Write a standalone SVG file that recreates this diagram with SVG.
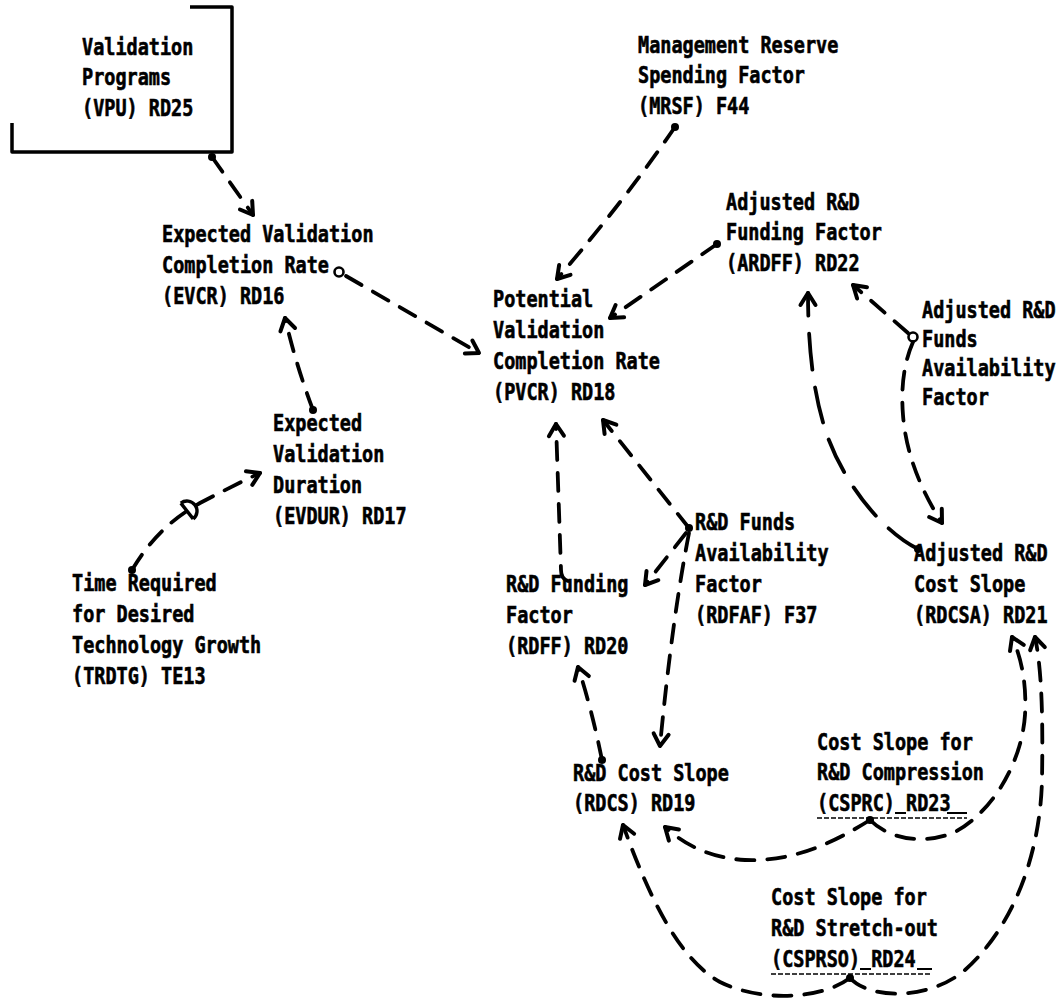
<svg xmlns="http://www.w3.org/2000/svg" width="1061" height="1000" viewBox="0 0 1061 1000">
  <style>
    .lbl text { font-family: "DejaVu Sans Mono", "Liberation Mono", monospace; font-weight: bold; font-size: 18.5px; fill: #000; stroke: #000; stroke-width: 0.5px; }
    .c { fill: none; stroke: #000; stroke-width: 3.8; stroke-linecap: round; stroke-dasharray: 18 13; }
    .cl { fill: none; stroke: #000; stroke-width: 3.8; stroke-linecap: round; stroke-dasharray: 36 18; }
    .dot { fill: #000; }
    .ring { fill: none; stroke: #000; stroke-width: 2.6; }
    .box { fill: none; stroke: #000; stroke-width: 3.5; stroke-linejoin: round; }
    .ul { stroke: #000; stroke-width: 1.6; stroke-dasharray: 5 2; }
    .us { stroke: #000; stroke-width: 2; }
  </style>
  <defs>
    <marker id="ah" markerUnits="userSpaceOnUse" markerWidth="34" markerHeight="34" viewBox="-17 -17 34 34" refX="0" refY="0" orient="auto">
      <path d="M-12,-7.5 L0,0 L-12,7.5" fill="none" stroke="#000" stroke-width="4" stroke-linecap="round" stroke-linejoin="round"/>
    </marker>
  </defs>
  <rect width="1061" height="1000" fill="#fff"/>

  <!-- nodes: text lines are stretched vertically to the tall print face -->
  <g id="n-vpu">
    <path class="box" d="M190,7 L232,7 L232,152 L12,152 L12,123"/>
    <g class="lbl" transform="translate(82,55) scale(1,1.22)">
      <text y="0">Validation</text>
      <text y="25">Programs</text>
      <text y="50">(VPU) RD25</text>
    </g>
  </g>
  <g id="n-evcr" class="lbl" transform="translate(162,242) scale(1,1.22)">
    <text y="0">Expected Validation</text>
    <text y="25.4">Completion Rate</text>
    <text y="50.8">(EVCR) RD16</text>
  </g>
  <g id="n-pvcr" class="lbl" transform="translate(493,307) scale(1,1.22)">
    <text y="0">Potential</text>
    <text y="25.4">Validation</text>
    <text y="50.8">Completion Rate</text>
    <text y="76.2">(PVCR) RD18</text>
  </g>
  <g id="n-mrsf" class="lbl" transform="translate(638,53) scale(1,1.22)">
    <text y="0">Management Reserve</text>
    <text y="25">Spending Factor</text>
    <text y="50">(MRSF) F44</text>
  </g>
  <g id="n-ardff" class="lbl" transform="translate(726,210) scale(1,1.22)">
    <text y="0">Adjusted R&amp;D</text>
    <text y="25">Funding Factor</text>
    <text y="50">(ARDFF) RD22</text>
  </g>
  <g id="n-ardfaf" class="lbl" transform="translate(922,318) scale(1,1.22)">
    <text y="0">Adjusted R&amp;D</text>
    <text y="23.8">Funds</text>
    <text y="47.6">Availability</text>
    <text y="71.4">Factor</text>
  </g>
  <g id="n-evdur" class="lbl" transform="translate(273,431) scale(1,1.22)">
    <text y="0">Expected</text>
    <text y="25.4">Validation</text>
    <text y="50.8">Duration</text>
    <text y="76.2">(EVDUR) RD17</text>
  </g>
  <g id="n-trdtg" class="lbl" transform="translate(72,591) scale(1,1.22)">
    <text y="0">Time Required</text>
    <text y="25.4">for Desired</text>
    <text y="50.8">Technology Growth</text>
    <text y="76.2">(TRDTG) TE13</text>
  </g>
  <g id="n-rdfaf" class="lbl" transform="translate(695,530) scale(1,1.22)">
    <text y="0">R&amp;D Funds</text>
    <text y="25.4">Availability</text>
    <text y="50.8">Factor</text>
    <text y="76.2">(RDFAF) F37</text>
  </g>
  <g id="n-rdff" class="lbl" transform="translate(506,592) scale(1,1.22)">
    <text y="0">R&amp;D Funding</text>
    <text y="25.4">Factor</text>
    <text y="50.8">(RDFF) RD20</text>
  </g>
  <g id="n-rdcsa" class="lbl" transform="translate(914,561) scale(1,1.22)">
    <text y="0">Adjusted R&amp;D</text>
    <text y="25.4">Cost Slope</text>
    <text y="50.8">(RDCSA) RD21</text>
  </g>
  <g id="n-rdcs" class="lbl" transform="translate(573,781) scale(1,1.22)">
    <text y="0">R&amp;D Cost Slope</text>
    <text y="24.6">(RDCS) RD19</text>
  </g>
  <g id="n-csprc">
    <g class="lbl" transform="translate(817,750) scale(1,1.22)">
      <text y="0">Cost Slope for</text>
      <text y="25">R&amp;D Compression</text>
      <text y="50">(CSPRC) RD23</text>
    </g>
    <path class="us" d="M895,813 H906 M947,813 H967"/>
    <line class="ul" x1="817" y1="818" x2="967" y2="818"/>
  </g>
  <g id="n-csprso">
    <g class="lbl" transform="translate(771,905) scale(1,1.22)">
      <text y="0">Cost Slope for</text>
      <text y="25.4">R&amp;D Stretch-out</text>
      <text y="50.8">(CSPRSO) RD24</text>
    </g>
    <path class="us" d="M860,969 H871 M917,969 H932"/>
    <line class="ul" x1="771" y1="974" x2="932" y2="974"/>
  </g>

  <!-- connectors -->
  <g id="connectors">
    <!-- VPU -> EVCR -->
    <circle class="dot" cx="212" cy="157" r="4"/>
    <path class="c" marker-end="url(#ah)" d="M212,157 L253,215"/>
    <!-- EVCR -> PVCR -->
    <circle class="ring" cx="339" cy="272" r="4.5"/>
    <path class="c" marker-end="url(#ah)" d="M346,276 L479,353"/>
    <!-- EVDUR -> EVCR -->
    <circle class="dot" cx="313" cy="410" r="4"/>
    <path class="c" marker-end="url(#ah)" d="M313,410 Q296,365 285,318"/>
    <!-- TRDTG -> EVDUR, with delay mark -->
    <circle class="dot" cx="132" cy="570" r="4"/>
    <path class="c" marker-end="url(#ah)" d="M132,570 C150,540 170,520 200,503 C225,490 245,480 260,473"/>
    <g transform="translate(187,511) rotate(-38)">
      <path d="M0,-10 L0,10 M0,-10 A10,10 0 0 1 0,10" fill="#fff" stroke="#000" stroke-width="3.4"/>
    </g>
    <!-- MRSF -> PVCR -->
    <circle class="dot" cx="675" cy="127" r="4"/>
    <path class="c" marker-end="url(#ah)" d="M675,127 Q625,200 557,279"/>
    <!-- ARDFF -> PVCR -->
    <circle class="dot" cx="717" cy="244" r="4"/>
    <path class="c" marker-end="url(#ah)" d="M717,244 L610,318"/>
    <!-- RDCSA -> ARDFF -->
    <circle class="dot" cx="918" cy="549" r="4"/>
    <path class="cl" marker-end="url(#ah)" d="M918,549 C880,530 842,480 826,432 C812,390 808,340 808,293"/>
    <!-- adjusted funds availability -> ARDFF, -> RDCSA -->
    <circle class="ring" cx="913" cy="337" r="4.5"/>
    <path class="c" marker-end="url(#ah)" d="M908,333 L853,285"/>
    <path class="c" marker-end="url(#ah)" d="M913,342 C903,365 901,390 903,415 C906,455 922,492 942,523"/>
    <!-- RDFAF -> PVCR, RDFF, RDCS -->
    <circle class="dot" cx="689" cy="528" r="4"/>
    <path class="c" marker-end="url(#ah)" d="M689,528 L603,420"/>
    <path class="c" marker-end="url(#ah)" d="M686,533 L645,585"/>
    <path class="c" marker-end="url(#ah)" d="M689,533 Q672,620 660,746"/>
    <!-- RDCS -> RDFF -->
    <circle class="dot" cx="602" cy="760" r="4"/>
    <path class="c" marker-end="url(#ah)" d="M602,760 Q592,710 578,667"/>
    <!-- RDFF -> PVCR -->
    <path class="c" marker-end="url(#ah)" d="M568,581 Q561,579 561,570 L556,424"/>
    <!-- CSPRC -> RDCS, RDCSA -->
    <circle class="dot" cx="870" cy="820" r="4"/>
    <path class="c" marker-end="url(#ah)" d="M870,820 C830,845 790,862 745,860 C710,858 685,845 665,827"/>
    <path class="c" marker-end="url(#ah)" d="M870,820 C890,840 925,845 955,832 C995,810 1022,760 1025,715 C1027,680 1020,655 1012,637"/>
    <!-- CSPRSO -> RDCSA, RDCS -->
    <circle class="dot" cx="850" cy="978" r="4"/>
    <path class="c" marker-end="url(#ah)" d="M850,978 C870,1000 930,1000 965,970 C1010,930 1040,860 1042,780 C1043,720 1042,670 1035,637"/>
    <path class="c" marker-end="url(#ah)" d="M850,978 C820,1000 760,1002 720,982 C680,960 650,900 623,825"/>
  </g>
</svg>
